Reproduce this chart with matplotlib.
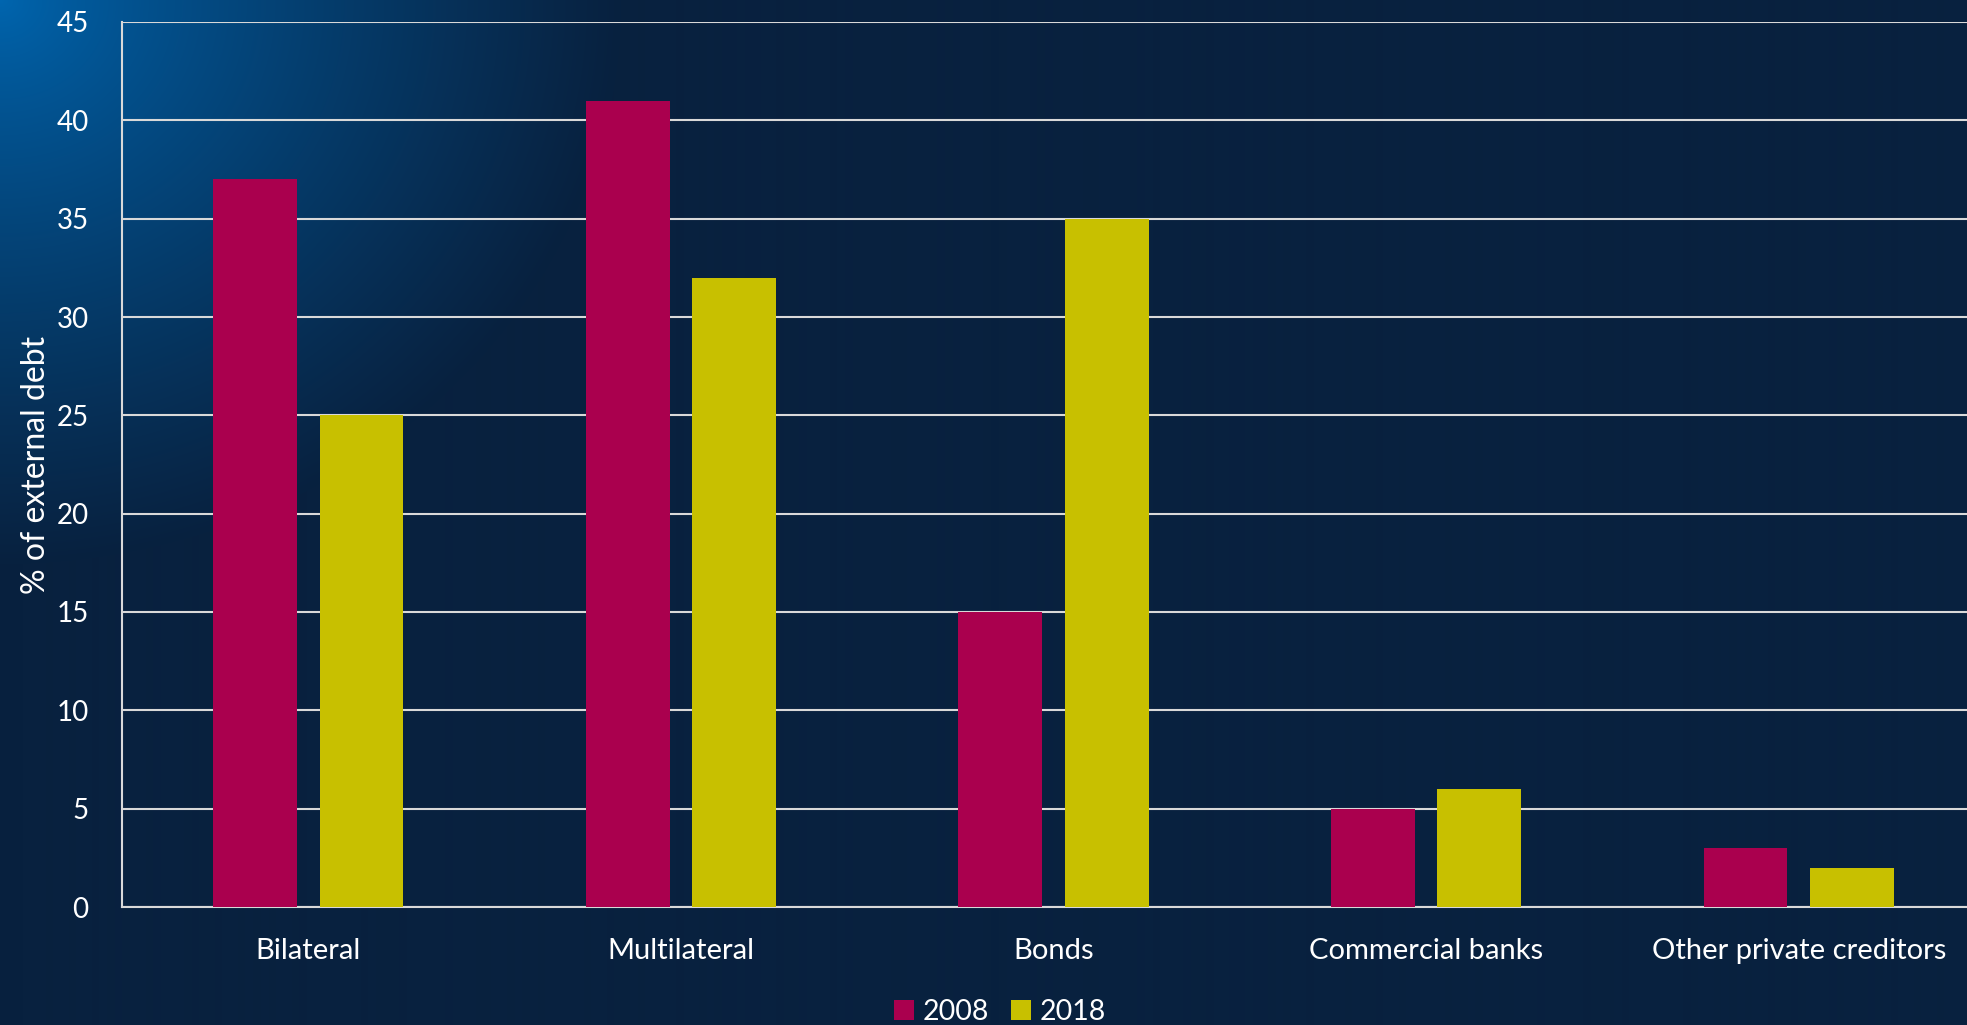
import numpy as np
import matplotlib
matplotlib.use("Agg")
import matplotlib.pyplot as plt
from matplotlib.colors import to_rgb

# data
categories = ["Bilateral", "Multilateral", "Bonds", "Commercial banks", "Other private creditors"]
share_2008 = [37, 41, 15, 5, 3]
share_2018 = [25, 32, 35, 6, 2]
years = ["2008", "2018"]
yticks = [0, 5, 10, 15, 20, 25, 30, 35, 40, 45]

col_2008 = "#aa004e"
col_2018 = "#c8c000"
dark = np.array(to_rgb("#08213f"))
bright = np.array(to_rgb("#0066b0"))
grid_col = "#d9d9d9"

plt.rcParams['font.family'] = ['Lato', 'DejaVu Sans']

W, H = 1967, 1025
fig = plt.figure(figsize=(W / 100, H / 100), dpi=100)

# background: radial glow from the top-left corner
bg = fig.add_axes([0, 0, 1, 1])
yy, xx = np.mgrid[0:H, 0:W]
d = np.sqrt(xx**2 + (yy * 1.1)**2) / 620.0
t = np.clip(d, 0, 1) ** 0.8
img = bright[None, None, :] * (1 - t[..., None]) + dark[None, None, :] * t[..., None]
bg.imshow(img, aspect="auto", extent=[0, 1, 0, 1], origin="upper")
bg.axis("off")

# plot area runs a little past the right edge, as in the original
ax = fig.add_axes([122 / W, 1 - 907 / H, 1863 / W, 885 / H])
ax.patch.set_alpha(0)

x = np.arange(len(categories))
bw = 0.225
off = 0.143
ax.bar(x - off, share_2008, bw, color=col_2008, label=years[0], zorder=3)
ax.bar(x + off, share_2018, bw, color=col_2018, label=years[1], zorder=3)

ax.set_xlim(-0.5, len(categories) - 0.5)
ax.set_ylim(0, 45)
ax.set_yticks(yticks)
ax.set_xticks(x)
ax.set_xticklabels(categories, fontsize=21)
ax.yaxis.grid(True, color=grid_col, lw=1.5, zorder=1)
ax.set_axisbelow(True)

for s in ["top", "right"]:
    ax.spines[s].set_visible(False)
for s in ["left", "bottom"]:
    ax.spines[s].set_color(grid_col)
    ax.spines[s].set_linewidth(1.5)

ax.tick_params(axis="both", length=0, colors="white")
ax.tick_params(axis="y", pad=24, labelsize=20)
ax.tick_params(axis="x", pad=22)
ax.set_ylabel("% of external debt", color="white", fontsize=23, labelpad=4)

leg = fig.legend(loc="center", bbox_to_anchor=(1000 / W, 1 - 1012 / H), ncol=2,
                 frameon=False, fontsize=20.5, labelcolor="white",
                 handlelength=0.7, handleheight=0.7, handletextpad=0.3, columnspacing=0.8)

fig.savefig("out.png", dpi=100)
